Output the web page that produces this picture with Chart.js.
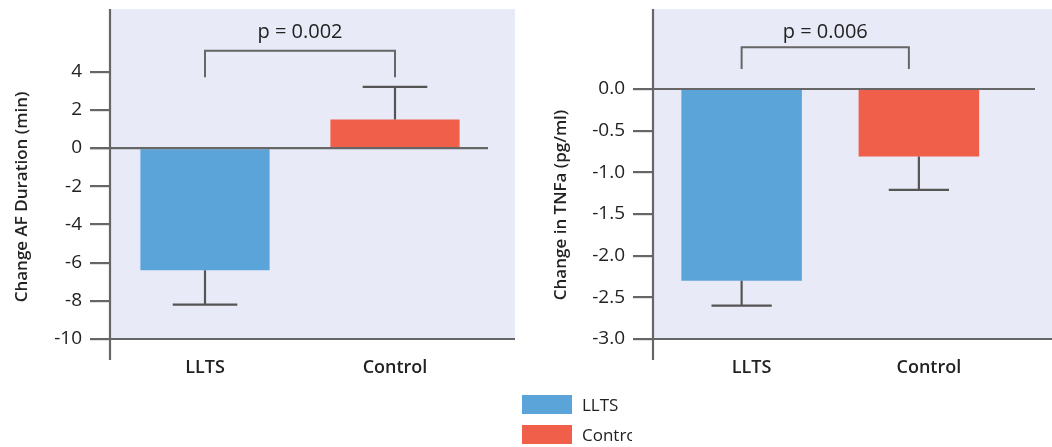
<!DOCTYPE html>
<html>
<head>
<meta charset="utf-8">
<script src="https://cdn.jsdelivr.net/npm/chart.js@4.4.1/dist/chart.umd.min.js"></script>
<style>
  html, body { margin: 0; padding: 0; background: #ffffff; }
  body { width: 1052px; height: 447px; position: relative; overflow: hidden; font-family: "Open Sans", sans-serif; }
  #c1 { position: absolute; left: 0; top: 0; }
  #c2 { position: absolute; left: 520px; top: 0; }
  .leg { position: absolute; left: 522px; width: 50px; height: 19px; }
  .legtxt { position: absolute; left: 582px; font-size: 17px; color: #222; line-height: 20px; white-space: nowrap; overflow: hidden; }
</style>
</head>
<body>
<canvas id="c1" width="520" height="447"></canvas>
<canvas id="c2" width="532" height="447"></canvas>
<div class="leg" style="top:395px;background:#5BA4DA"></div>
<div class="legtxt" style="top:395px;">LLTS</div>
<div class="leg" style="top:425px;background:#F05F4A"></div>
<div class="legtxt" style="top:425px;width:50px;">Control</div>
<script>
// ---- data ----
const categories = ["LLTS", "Control"];
const afValues = [-6.4, 1.5];
const afErrors = [1.8, 1.7];
const afTicks = [-10, -8, -6, -4, -2, 0, 2, 4];
const afPText = "p = 0.002";
const afBracket = [5.1, 3.7];      // bracket top value, leg end value
const tnfValues = [-2.3, -0.81];
const tnfErrors = [0.3, 0.4];
const tnfTicks = [-3.0, -2.5, -2.0, -1.5, -1.0, -0.5, 0.0];
const tnfPText = "p = 0.006";
const tnfBracket = [0.5, 0.24];
const barColors = ["#5BA4DA", "#F05F4A"];

const AXIS = "#666666";
const ERR = "#555555";
const BG = "#E8EBF7";

const decor = {
  id: "decor",
  beforeDraw(chart, args, o) {
    const ctx = chart.ctx, ca = chart.chartArea;
    ctx.save();
    ctx.fillStyle = BG;
    ctx.fillRect(ca.left, ca.top, o.bgRight - ca.left, ca.bottom - ca.top);
    ctx.restore();
  },
  afterDatasetsDraw(chart, args, o) {
    const ctx = chart.ctx, ca = chart.chartArea;
    const xs = chart.scales.x, ys = chart.scales.y;
    const ds = chart.data.datasets[0];
    const meta = chart.getDatasetMeta(0);
    ctx.save();
    ctx.lineCap = "butt";
    // error bars
    ctx.strokeStyle = ERR;
    ctx.lineWidth = 2.2;
    ds.data.forEach((v, i) => {
      const err = o.errors[i];
      const end = v < 0 ? v - err : v + err;
      const xc = xs.getPixelForValue(i);
      const y1 = ys.getPixelForValue(v);
      const y2 = ys.getPixelForValue(end);
      const w = meta.data[i].width / 2;
      ctx.beginPath();
      ctx.moveTo(xc, y1); ctx.lineTo(xc, y2);
      ctx.moveTo(xc - w / 2, y2); ctx.lineTo(xc + w / 2, y2);
      ctx.stroke();
    });
    // axes lines
    ctx.strokeStyle = AXIS;
    ctx.lineWidth = 2.2;
    const y0 = ys.getPixelForValue(0);
    ctx.beginPath();
    ctx.moveTo(ca.left - 20, y0); ctx.lineTo(o.zeroRight, y0);
    ctx.moveTo(ca.left - 20, ca.bottom); ctx.lineTo(o.bgRight, ca.bottom);
    ctx.moveTo(ca.left, ca.top); ctx.lineTo(ca.left, ca.bottom + 21);
    ctx.stroke();
    // bracket
    const bx1 = xs.getPixelForValue(0), bx2 = xs.getPixelForValue(1) + o.bracketShift;
    const bt = ys.getPixelForValue(o.bracket[0]), bl = ys.getPixelForValue(o.bracket[1]);
    ctx.lineWidth = 2;
    ctx.beginPath();
    ctx.moveTo(bx1, bl); ctx.lineTo(bx1, bt); ctx.lineTo(bx2, bt); ctx.lineTo(bx2, bl);
    ctx.stroke();
    // p text
    ctx.fillStyle = "#222";
    ctx.font = '20px "Open Sans"';
    ctx.textAlign = "center";
    ctx.textBaseline = "middle";
    ctx.fillText(o.pText, (bx1 + bx2) / 2, 32);
    // y title
    ctx.save();
    ctx.translate(o.titleX, o.titleY);
    ctx.rotate(-Math.PI / 2);
    ctx.font = '600 17px "Open Sans"';
    ctx.fillStyle = "#222";
    ctx.fillText(o.title, 0, 0);
    ctx.restore();
    ctx.restore();
  }
};

function makeChart(id, values, errors, ticks, yMin, yMax, yWidth, padRight, fmt, labelOffset, extra) {
  return new Chart(document.getElementById(id), {
    type: "bar",
    data: {
      labels: categories,
      datasets: [{
        data: values,
        backgroundColor: barColors,
        borderWidth: 0,
        barPercentage: 0.68,
        categoryPercentage: 1.0
      }]
    },
    options: {
      responsive: false,
      animation: false,
      events: [],
      layout: { padding: { left: 0, right: padRight, top: 9, bottom: 0 } },
      plugins: {
        legend: { display: false },
        tooltip: { enabled: false },
        decor: Object.assign({ errors: errors }, extra)
      },
      scales: {
        x: {
          grid: { display: false },
          border: { display: false },
          ticks: { color: "#222", font: { family: "Open Sans", size: 18, weight: "600" }, padding: 10, labelOffset: labelOffset },
          afterFit(s) { s.height = 108; s.paddingLeft = 0; s.paddingRight = 0; }
        },
        y: {
          min: yMin, max: yMax,
          grid: { drawOnChartArea: false, drawTicks: true, tickLength: 20, color: AXIS, lineWidth: 2.2 },
          border: { display: false },
          ticks: { color: "#222", font: { family: "Open Sans", size: 19 }, padding: 8, callback: fmt },
          afterBuildTicks(s) { s.ticks = ticks.map(v => ({ value: v })); },
          afterFit(s) { s.width = yWidth; s.paddingTop = 0; s.paddingBottom = 0; }
        }
      }
    },
    plugins: [decor]
  });
}

makeChart("c1", afValues, afErrors, afTicks, -10, 7.28, 110, 30, v => String(v), 0, {
  bgRight: 515, zeroRight: 488, bracket: afBracket, bracketShift: 0,
  pText: afPText, title: "Change AF Duration (min)", titleX: 22, titleY: 197
});
makeChart("c2", tnfValues, tnfErrors, tnfTicks, -3, 0.96, 133, 44.5, v => Number(v).toFixed(1), 10, {
  bgRight: 532, zeroRight: 515, bracket: tnfBracket, bracketShift: -10,
  pText: tnfPText, title: "Change in TNFa (pg/ml)", titleX: 41, titleY: 205
});
</script>
</body>
</html>
